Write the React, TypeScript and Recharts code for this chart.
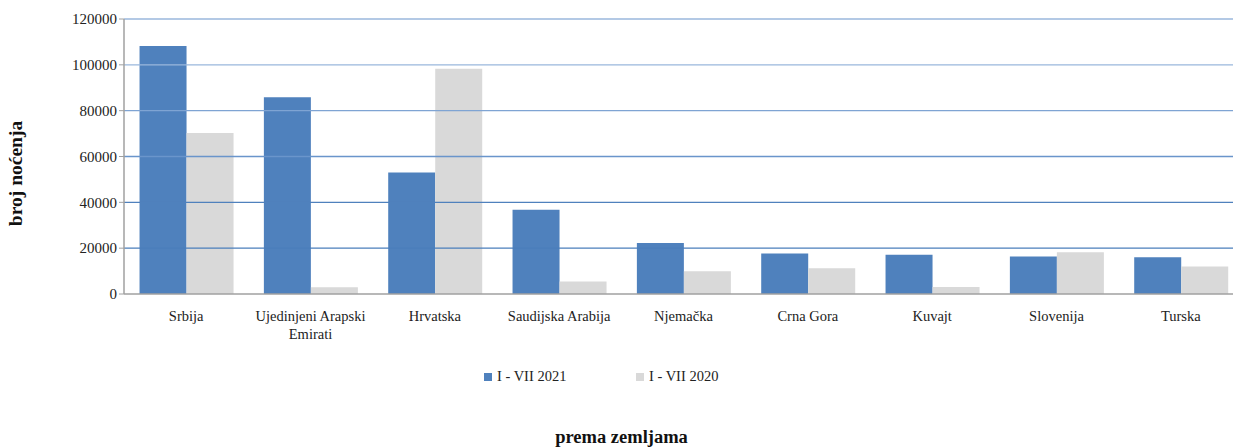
import { BarChart, Bar, XAxis, YAxis, ReferenceLine, Label, Text } from 'recharts';

const countries = ['Srbija', 'Ujedinjeni Arapski Emirati', 'Hrvatska', 'Saudijska Arabija', 'Njemačka', 'Crna Gora', 'Kuvajt', 'Slovenija', 'Turska'];
const nights2021 = [108200, 85900, 53000, 36800, 22300, 17700, 17100, 16400, 16000];
const nights2020 = [70300, 2900, 98300, 5500, 9900, 11200, 3100, 18200, 12000];
const yTicks = [0, 20000, 40000, 60000, 80000, 100000, 120000];
const seriesNames = ['I - VII 2021', 'I - VII 2020'];

const gridColors = ['#4a7ebb', '#4a7ebb', '#4f81bd', '#6a95cb', '#7fa4d3', '#9ab7dc', '#9ab7dc'];
const seriesColors = ['#4f81bd', '#d9d9d9'];
const FONT = '"Liberation Serif", "DejaVu Serif", serif';

const data = countries.map((name, i) => ({ name, y2021: nights2021[i], y2020: nights2020[i] }));

function CountryTick(props: any) {
  const { x, y, payload } = props;
  return (
    <Text x={x} y={y + 9} width={140} textAnchor="middle" verticalAnchor="start" fontFamily={FONT} fontSize={14.5} fill="#222" lineHeight={18}>
      {payload.value}
    </Text>
  );
}

// legend drawn outside the svg so it doesn't eat into the plot area
function LegendBox() {
  return (
    <div style={{ position: 'absolute', left: 0, top: 368, width: 1233, height: 20, fontFamily: FONT, fontSize: 14.5, color: '#222' }}>
      {seriesNames.map((s, i) => (
        <div key={s} style={{ position: 'absolute', left: 484 + i * 152, top: 0, display: 'flex', alignItems: 'center' }}>
          <span style={{ display: 'inline-block', width: 8, height: 8, background: seriesColors[i], marginRight: 5 }} />
          <span>{s}</span>
        </div>
      ))}
    </div>
  );
}

export default function App() {
  return (
    <div style={{ position: 'absolute', left: 0, top: 0, width: 1233, height: 448, background: '#fff', overflow: 'hidden' }}>
      <BarChart width={1243} height={448} data={data} margin={{ top: 19, right: 0, bottom: 114, left: 0 }} barCategoryGap="12.5%" barGap={0} style={{ overflow: 'visible' }}>
        {yTicks.slice(1).map((t, i) => (
          <ReferenceLine key={t} y={t} stroke={gridColors[i + 1]} strokeWidth={1.3} />
        ))}
        <XAxis dataKey="name" interval={0} tickLine={false} axisLine={{ stroke: '#a0a0a0', strokeWidth: 1.5 }} tick={<CountryTick />} height={40}>
          <Label value="prema zemljama" position="bottom" offset={96} dx={-62} style={{ fontFamily: FONT, fontSize: 18.5, fontWeight: 700, fill: '#111' }} />
        </XAxis>
        <YAxis
          domain={[0, 120000]}
          ticks={yTicks}
          width={124}
          tickSize={5}
          tickLine={{ stroke: '#a0a0a0' }}
          axisLine={{ stroke: '#a0a0a0', strokeWidth: 1.5 }}
          tick={{ fontFamily: FONT, fontSize: 15, fill: '#222' }}
        >
          <Label value="broj noćenja" angle={-90} position="insideLeft" offset={15} dy={17} style={{ fontFamily: FONT, fontSize: 19.5, fontWeight: 700, fill: '#111', textAnchor: 'middle' }} />
        </YAxis>
        <Bar dataKey="y2021" name={seriesNames[0]} fill={seriesColors[0]} isAnimationActive={false} />
        <Bar dataKey="y2020" name={seriesNames[1]} fill={seriesColors[1]} isAnimationActive={false} />
      </BarChart>
      <LegendBox />
    </div>
  );
}
